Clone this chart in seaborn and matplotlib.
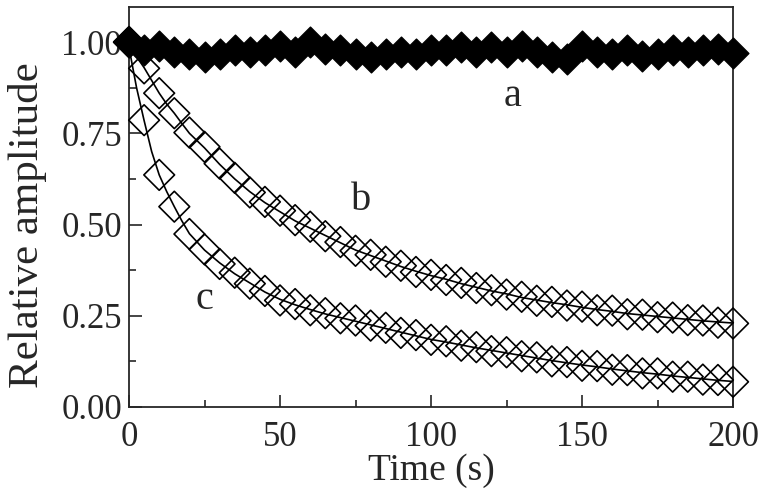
import numpy as np
import pandas as pd
import matplotlib
matplotlib.use("Agg")
import matplotlib.pyplot as plt
import seaborn as sns

# measured points, one every 5 s
time_s = list(range(0, 205, 5))

amp_a = [1.000, 0.978, 0.989, 0.973, 0.968, 0.959, 0.968, 0.979, 0.973, 0.979,
         0.989, 0.973, 1.000, 0.982, 0.979, 0.968, 0.959, 0.968, 0.973, 0.968,
         0.978, 0.978, 0.987, 0.973, 0.987, 0.973, 0.989, 0.973, 0.959, 0.955,
         0.989, 0.973, 0.968, 0.978, 0.961, 0.968, 0.978, 0.973, 0.978, 0.982,
         0.969]

amp_b = [1.000, 0.928, 0.860, 0.805, 0.752, 0.713, 0.667, 0.628, 0.588, 0.562,
         0.538, 0.512, 0.494, 0.468, 0.452, 0.428, 0.417, 0.398, 0.387, 0.370,
         0.362, 0.348, 0.340, 0.326, 0.320, 0.308, 0.302, 0.291, 0.288, 0.278,
         0.275, 0.265, 0.264, 0.254, 0.253, 0.246, 0.245, 0.238, 0.237, 0.231,
         0.229]

amp_c = [1.000, 0.786, 0.636, 0.549, 0.474, 0.432, 0.392, 0.368, 0.338, 0.318,
         0.292, 0.282, 0.265, 0.257, 0.243, 0.237, 0.223, 0.217, 0.203, 0.197,
         0.184, 0.180, 0.168, 0.164, 0.153, 0.150, 0.139, 0.136, 0.125, 0.123,
         0.113, 0.112, 0.102, 0.101, 0.092, 0.092, 0.083, 0.083, 0.075, 0.074,
         0.069]

# fitted curves
fit_t = [0, 2.5, 5, 7.5, 10, 12.5, 15, 17.5, 20] + list(range(25, 205, 5))
fit_b = [0.985, 0.960, 0.930, 0.895, 0.860, 0.830, 0.805, 0.777, 0.750,
         0.710, 0.665, 0.625, 0.590, 0.560, 0.535, 0.510, 0.490, 0.470, 0.450,
         0.430, 0.415, 0.400, 0.385, 0.372, 0.360, 0.350, 0.338, 0.328, 0.318,
         0.310, 0.300, 0.293, 0.286, 0.280, 0.273, 0.267, 0.262, 0.256, 0.252,
         0.248, 0.244, 0.240, 0.236, 0.233, 0.230]
fit_c = [0.985, 0.875, 0.785, 0.700, 0.636, 0.590, 0.549, 0.510, 0.475,
         0.430, 0.395, 0.365, 0.340, 0.315, 0.295, 0.280, 0.267, 0.255, 0.245,
         0.235, 0.225, 0.215, 0.205, 0.195, 0.185, 0.178, 0.170, 0.162, 0.155,
         0.148, 0.141, 0.134, 0.127, 0.121, 0.115, 0.110, 0.104, 0.099, 0.094,
         0.090, 0.085, 0.081, 0.077, 0.073, 0.070]

pts = pd.DataFrame({"t": time_s, "a": amp_a, "b": amp_b, "c": amp_c})
fits = pd.DataFrame({"t": fit_t, "b": fit_b, "c": fit_c})

sns.set_style("ticks", {"xtick.direction": "in", "ytick.direction": "in"})
plt.rcParams["font.family"] = ["Liberation Serif", "DejaVu Serif"]

fig = plt.figure(figsize=(7.62, 5.04), dpi=100)
ax = fig.add_axes([0.1693, 0.1925, 0.7927, 0.7935])

for col in ["b", "c"]:
    sns.lineplot(data=fits, x="t", y=col, ax=ax, color="black", lw=1.2,
                 zorder=2)
    sns.scatterplot(data=pts, x="t", y=col, ax=ax, marker="D", s=245,
                    facecolor="none", edgecolor="black", linewidth=1.2,
                    clip_on=False, zorder=3)

sns.scatterplot(data=pts, x="t", y="a", ax=ax, marker="D", s=245,
                color="black", edgecolor="black", linewidth=1.0,
                clip_on=False, zorder=4)

ax.text(127, 0.85, "a", fontsize=29, ha="center", va="center")
ax.text(77, 0.565, "b", fontsize=29, ha="center", va="center")
ax.text(25, 0.295, "c", fontsize=29, ha="center", va="center")

ax.set_xlim(0, 200)
ax.set_ylim(0, 1.096)
ax.set_xticks([0, 50, 100, 150, 200])
ax.set_xticks([25, 75, 125, 175], minor=True)
ax.set_yticks([0, 0.25, 0.5, 0.75, 1.0])
ax.set_yticks([0.125, 0.375, 0.625, 0.875], minor=True)
ax.set_yticklabels(["0.00", "0.25", "0.50", "0.75", "1.00"])
ax.tick_params(which="major", length=9, width=1.2, labelsize=25)
ax.tick_params(axis="x", which="major", pad=10)
ax.tick_params(axis="y", which="major", pad=5)
ax.tick_params(which="minor", length=5, width=1.2)
for sp in ax.spines.values():
    sp.set_linewidth(1.3)
    sp.set_visible(True)

ax.set_xlabel("Time (s)", fontsize=27, labelpad=0)
ax.set_ylabel("Relative amplitude", fontsize=31)
ax.yaxis.set_label_coords(-0.135, 0.455)

fig.savefig("out.png", dpi=100)
